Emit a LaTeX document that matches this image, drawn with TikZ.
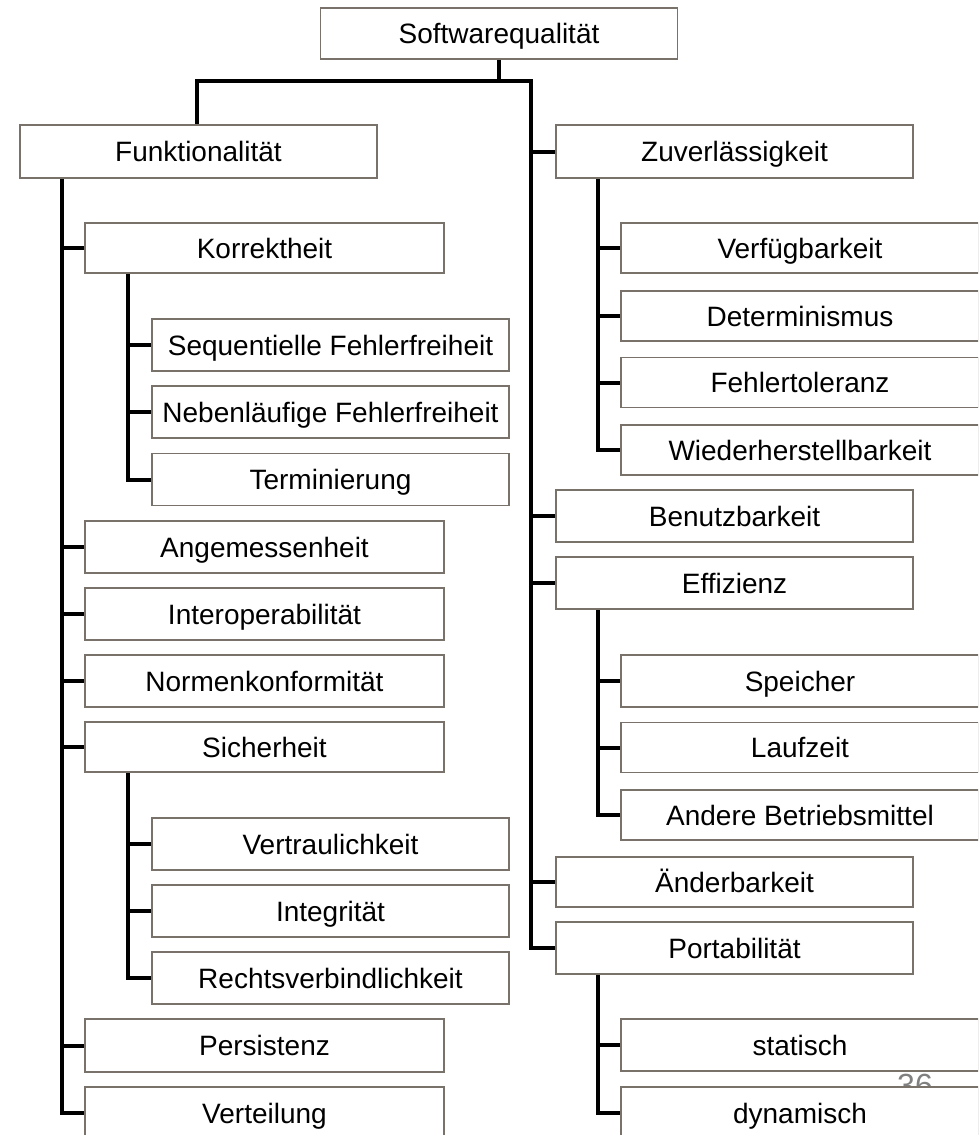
\documentclass[tikz,border=0pt]{standalone}
\usepackage{fontspec}
\setmainfont{Liberation Sans}
\definecolor{bordc}{RGB}{120,114,106}
\definecolor{pgc}{RGB}{128,128,128}
\begin{document}
\begin{tikzpicture}[x=1pt,y=-1pt,
  box/.style={draw=bordc, line width=1.7pt, fill=white, inner sep=0pt,
    minimum height=52pt, font=\fontsize{28}{33}\selectfont,
    text height=20pt, text depth=0pt},
  wa/.style={box, minimum width=357pt},
  wb/.style={box, minimum width=359pt},
  wc/.style={box, minimum width=358pt},
  conn/.style={line width=4pt, black, line join=miter}]
\useasboundingbox (0,0) rectangle (978,1135);
\clip (0,0) rectangle (978,1135);

% partly hidden page number
\node[anchor=base, text=pgc, font=\fontsize{32}{36}\selectfont, inner sep=0pt] (pg) at (915,1096) {36};

% trunk coordinates
\coordinate (hL) at (197,81);
\coordinate (hR) at (531,81);
\coordinate (tL) at (62,0);
\coordinate (sL) at (128,0);
\coordinate (sR) at (598,0);

% boxes
\node[wa, minimum height=51pt] (sq) at (499,33.5) {Softwarequalität};

\node[wa, minimum height=53pt] (funk) at (198.5,151.5) {Funktionalität};
\node[wb, minimum height=50pt] (korr) at (264.5,248) {Korrektheit};
\node[wa] (seq) at (330.5,345) {Sequentielle Fehlerfreiheit};
\node[wa] (neb) at (330.5,412) {Nebenläufige Fehlerfreiheit};
\node[wa] (term) at (330.5,479.5) {Terminierung};
\node[wb] (angem) at (264.5,547) {Angemessenheit};
\node[wb] (inter) at (264.5,614) {Interoperabilität};
\node[wb] (norm) at (264.5,681) {Normenkonformität};
\node[wb, minimum height=50pt] (sich) at (264.5,747) {Sicherheit};
\node[wa] (vert) at (330.5,844) {Vertraulichkeit};
\node[wa] (integ) at (330.5,911) {Integrität};
\node[wa] (recht) at (330.5,978) {Rechtsverbindlichkeit};
\node[wb, minimum height=53pt] (pers) at (264.5,1045.5) {Persistenz};
\node[wb] (verteil) at (264.5,1113) {Verteilung};

\node[wa, minimum height=53pt] (zuv) at (734.5,151.5) {Zuverlässigkeit};
\node[wc, minimum height=50pt] (verf) at (800,248) {Verfügbarkeit};
\node[wc, minimum height=50pt] (det) at (800,316) {Determinismus};
\node[wc, minimum height=50pt] (ftol) at (800,382.5) {Fehlertoleranz};
\node[wc, minimum height=50pt] (wied) at (800,450) {Wiederherstellbarkeit};
\node[wa] (benu) at (734.5,516) {Benutzbarkeit};
\node[wa] (effi) at (734.5,583) {Effizienz};
\node[wc] (spei) at (800,681) {Speicher};
\node[wc, minimum height=50pt] (lauf) at (800,747.5) {Laufzeit};
\node[wc, minimum height=50pt] (andr) at (800,815) {Andere Betriebsmittel};
\node[wa, minimum height=50pt] (aend) at (734.5,882) {Änderbarkeit};
\node[wa] (port) at (734.5,948) {Portabilität};
\node[wc] (stat) at (800,1045) {statisch};
\node[wc] (dyn) at (800,1113) {dynamisch};

% top connectors
\draw[conn] (sq.south) -- (sq.south |- hL);
\draw[conn] (funk.north -| hL) -- (hL) -- (hR) -- (port.west -| hR) -- (port.west);
\foreach \n in {zuv,benu,effi,aend}
  \draw[conn] (\n.west -| hR) -- (\n.west);

% left main trunk
\draw[conn] (funk.south -| tL) -- (verteil.west -| tL) -- (verteil.west);
\foreach \n in {korr,angem,inter,norm,sich,pers}
  \draw[conn] (\n.west -| tL) -- (\n.west);

% Korrektheit subtree
\draw[conn] (korr.south -| sL) -- (term.west -| sL) -- (term.west);
\foreach \n in {seq,neb}
  \draw[conn] (\n.west -| sL) -- (\n.west);

% Sicherheit subtree
\draw[conn] (sich.south -| sL) -- (recht.west -| sL) -- (recht.west);
\foreach \n in {vert,integ}
  \draw[conn] (\n.west -| sL) -- (\n.west);

% Zuverlässigkeit subtree
\draw[conn] (zuv.south -| sR) -- (wied.west -| sR) -- (wied.west);
\foreach \n in {verf,det,ftol}
  \draw[conn] (\n.west -| sR) -- (\n.west);

% Effizienz subtree
\draw[conn] (effi.south -| sR) -- (andr.west -| sR) -- (andr.west);
\foreach \n in {spei,lauf}
  \draw[conn] (\n.west -| sR) -- (\n.west);

% Portabilität subtree
\draw[conn] (port.south -| sR) -- (dyn.west -| sR) -- (dyn.west);
\draw[conn] (stat.west -| sR) -- (stat.west);
\end{tikzpicture}
\end{document}
